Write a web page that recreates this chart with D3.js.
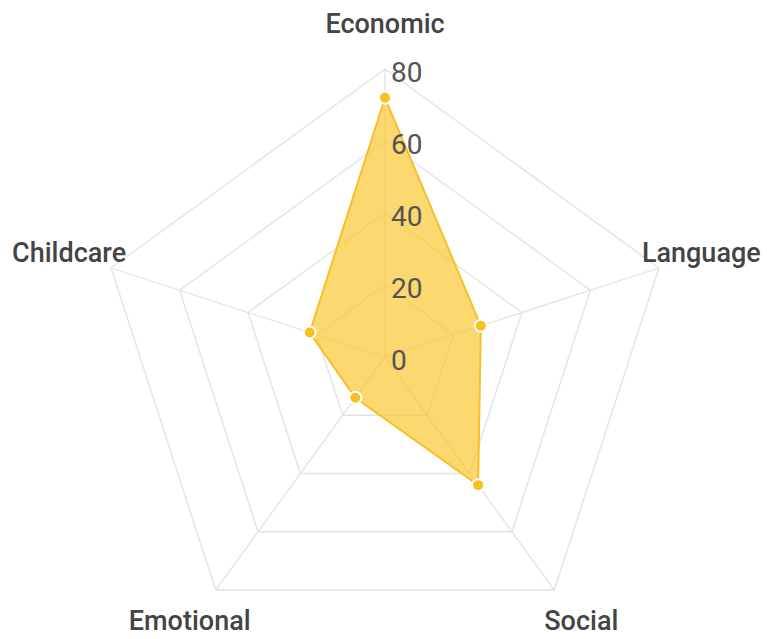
<!DOCTYPE html>
<html><head><meta charset="utf-8">
<script src="https://cdn.jsdelivr.net/npm/d3@7"></script>
<style>html,body{margin:0;padding:0;background:#fff;}svg{display:block;}</style>
</head><body><div id="chart"></div>
<script>
const categories = ["Economic", "Language", "Social", "Emotional", "Childcare"];
const values = [72, 28, 44, 14, 22];
const tickValues = [0, 20, 40, 60, 80];
const tickLabels = ["0", "20", "40", "60", "80"];

const W = 767, H = 639;
const cx = 385, cy = 357, R = 288;
const svg = d3.select("#chart").append("svg").attr("width", W).attr("height", H);
const g = svg.append("g").attr("transform", `translate(${cx},${cy})`);

const r = d3.scaleLinear().domain([0, 80]).range([0, R]);
const ang = d3.scaleLinear().domain([0, categories.length]).range([0, 2 * Math.PI]);
const pt = (i, v) => [Math.sin(ang(i)) * r(v), -Math.cos(ang(i)) * r(v)];

// grid rings
tickValues.filter(t => t > 0).forEach(t => {
  g.append("polygon")
    .attr("points", categories.map((c, i) => pt(i, t).join(",")).join(" "))
    .attr("fill", "none").attr("stroke", "#e2e2e2").attr("stroke-width", 1.3);
});
// spokes
categories.forEach((c, i) => {
  const p = pt(i, 80);
  g.append("line").attr("x1", 0).attr("y1", 0).attr("x2", p[0]).attr("y2", p[1])
    .attr("stroke", "#e2e2e2").attr("stroke-width", 1.3);
});

// area
const line = d3.line().curve(d3.curveLinearClosed);
g.append("path")
  .attr("d", line(values.map((v, i) => pt(i, v))))
  .attr("fill", "#F9C52C").attr("fill-opacity", 0.68)
  .attr("stroke", "#F7C02A").attr("stroke-width", 2);

// points
g.selectAll("circle.pt").data(values).enter().append("circle")
  .attr("cx", (v, i) => pt(i, v)[0]).attr("cy", (v, i) => pt(i, v)[1])
  .attr("r", 6).attr("fill", "#F8C01E").attr("stroke", "#fff").attr("stroke-width", 2);

// tick labels
g.selectAll("text.tick").data(tickValues).enter().append("text")
  .attr("x", 6).attr("y", d => -r(d) + 3)
  .attr("dominant-baseline", "central")
  .attr("font-family", "Roboto, sans-serif").attr("font-size", 28)
  .attr("fill", "#555")
  .text((d, i) => tickLabels[i]);

// category labels
const labelOffsets = [[0, -45, "middle"], [-17, -15, "start"], [27, 31, "middle"], [-26, 31, "middle"], [15, -15, "end"]];
categories.forEach((c, i) => {
  const p = pt(i, 80);
  const o = labelOffsets[i];
  g.append("text")
    .attr("x", p[0] + o[0]).attr("y", p[1] + o[1])
    .attr("text-anchor", o[2]).attr("dominant-baseline", "central")
    .attr("font-family", "Roboto, sans-serif").attr("font-size", 27).attr("font-weight", 500)
    .attr("fill", "#444")
    .text(c);
});
</script></body></html>
